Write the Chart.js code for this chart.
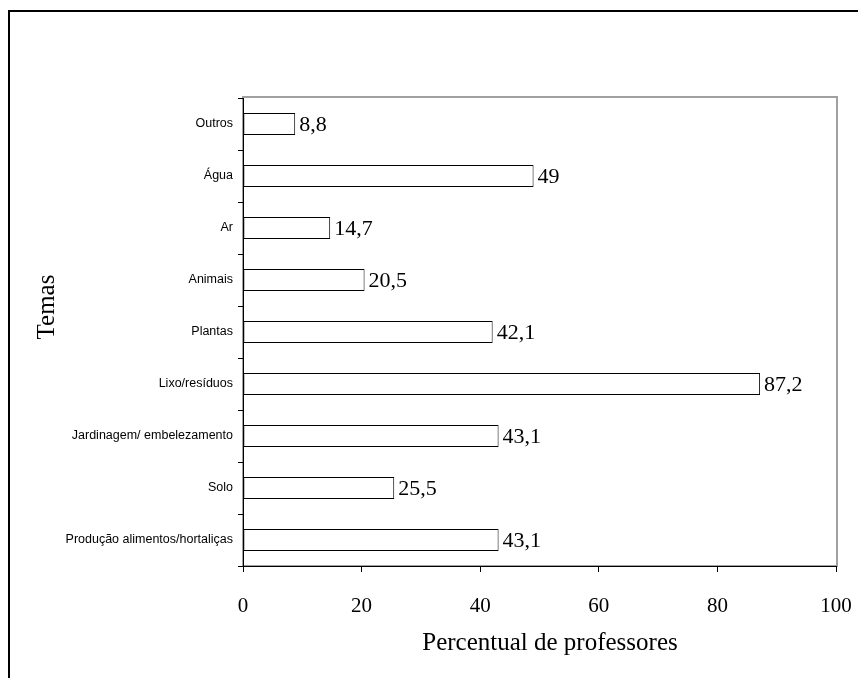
<!DOCTYPE html>
<html>
<head>
<meta charset="utf-8">
<script src="https://cdn.jsdelivr.net/npm/chart.js@4/dist/chart.umd.min.js"></script>
<style>
  html, body { margin: 0; padding: 0; background: #fff; overflow: hidden; }
  #moldura { position: absolute; left: 8px; top: 10px; width: 900px; height: 700px; border: 2px solid #000; box-sizing: border-box; }
  #grafico { position: absolute; left: 0; top: 0; }
</style>
</head>
<body>
<div id="moldura"></div>
<canvas id="grafico" width="858" height="678"></canvas>
<script>
var temas = ["Outros", "Água", "Ar", "Animais", "Plantas", "Lixo/resíduos", "Jardinagem/ embelezamento", "Solo", "Produção alimentos/hortaliças"];
var percentuais = [8.8, 49, 14.7, 20.5, 42.1, 87.2, 43.1, 25.5, 43.1];
var ticksX = [0, 20, 40, 60, 80, 100];

var serif = "'Liberation Serif', 'Times New Roman', serif";

// borda cinza do plot + titulos dos eixos
var molduraPlot = {
    id: 'molduraPlot',
    beforeDraw: function (chart) {
        var a = chart.chartArea, ctx = chart.ctx;
        ctx.save();
        ctx.strokeStyle = '#a0a0a0';
        ctx.lineWidth = 2;
        ctx.strokeRect(a.left, a.top - 1, a.right - a.left + 1, a.bottom - a.top + 1);
        ctx.restore();
    },
    afterDraw: function (chart) {
        var ctx = chart.ctx;
        ctx.save();
        ctx.fillStyle = '#000';
        ctx.font = '25px ' + serif;
        ctx.textAlign = 'center';
        ctx.textBaseline = 'middle';
        ctx.fillText('Percentual de professores', 550, 643);
        ctx.translate(47, 307);
        ctx.rotate(-Math.PI / 2);
        ctx.fillText('Temas', 0, 0);
        ctx.restore();
    }
};

// valores no fim das barras
var rotulos = {
    id: 'rotulos',
    afterDatasetsDraw: function (chart) {
        var ctx = chart.ctx;
        var meta = chart.getDatasetMeta(0);
        ctx.save();
        ctx.fillStyle = '#000';
        ctx.font = '22px ' + serif;
        ctx.textAlign = 'left';
        ctx.textBaseline = 'middle';
        meta.data.forEach(function (bar, i) {
            var txt = String(percentuais[i]).replace('.', ',');
            ctx.fillText(txt, bar.x + 4, bar.y + 1);
        });
        ctx.restore();
    }
};

var ctx = document.getElementById("grafico");
var grafico = new Chart(ctx, {
    type: 'bar',
    data: {
        labels: temas,
        datasets: [{
            data: percentuais,
            backgroundColor: '#ffffff',
            borderColor: '#000000',
            borderWidth: 1,
            borderSkipped: false,
            barPercentage: 0.42,
            categoryPercentage: 1
        }]
    },
    options: {
        indexAxis: 'y',
        responsive: false,
        animation: false,
        layout: { padding: { top: 98, right: 22, left: 0, bottom: 0 } },
        plugins: { legend: { display: false }, tooltip: { enabled: false } },
        scales: {
            x: {
                min: 0,
                max: 100,
                afterBuildTicks: function (scale) {
                    scale.ticks = ticksX.map(function (v) { return { value: v }; });
                },
                afterFit: function (scale) {
                    scale.height = 112;
                    scale.paddingLeft = 0;
                    scale.paddingRight = 0;
                },
                grid: { drawOnChartArea: false, drawTicks: true, tickLength: 6, color: '#000' },
                border: { color: '#000', width: 1 },
                ticks: { color: '#000', padding: 22, font: { family: serif, size: 21 } }
            },
            y: {
                afterFit: function (scale) {
                    scale.width = 243;
                    scale.paddingTop = 0;
                    scale.paddingBottom = 0;
                },
                grid: { drawOnChartArea: false, drawTicks: true, tickLength: 5, color: '#000', offset: true },
                border: { color: '#000', width: 1 },
                ticks: { color: '#000', padding: 5, font: { family: "'Liberation Sans', Arial, sans-serif", size: 12.5 } }
            }
        }
    },
    plugins: [molduraPlot, rotulos]
});
</script>
</body>
</html>
